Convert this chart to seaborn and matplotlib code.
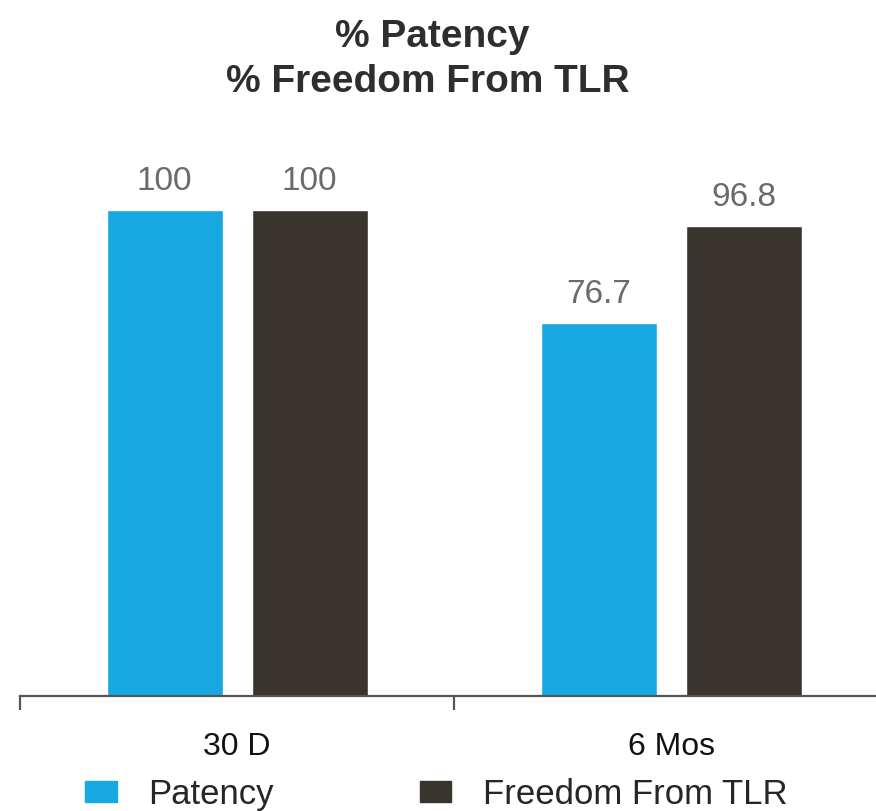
import seaborn as sns
import matplotlib.pyplot as plt
import pandas as pd

# data
timepoints = ["30 D", "6 Mos"]
patency = [100, 76.7]
freedom_tlr = [100, 96.8]
series_names = ["Patency", "Freedom From TLR"]
colors = ["#17a8e2", "#3a342e"]

df = pd.DataFrame({
    "time": timepoints * 2,
    "value": patency + freedom_tlr,
    "series": [series_names[0]] * 2 + [series_names[1]] * 2,
})

sns.set_style("white")
plt.rcParams["font.family"] = ["Liberation Sans", "DejaVu Sans"]

W, H = 876, 812
fig = plt.figure(figsize=(W / 100, H / 100), dpi=100)
ax = fig.add_axes([20 / W, (H - 697) / H, 1 - 20 / W, (697 - 140) / H])

sns.barplot(data=df, x="time", y="value", hue="series", palette=colors,
            width=0.668, gap=0.2, ax=ax, legend=False, saturation=1)

for cont in ax.containers:
    ax.bar_label(cont, labels=[f"{v:g}" for v in cont.datavalues],
                 padding=10, fontsize=24, color="#6a6a6a")

ax.set_xlabel("")
ax.set_ylabel("")
ax.set_yticks([])
for s in ["top", "right", "left"]:
    ax.spines[s].set_visible(False)
ax.spines["bottom"].set_color("#555555")
ax.spines["bottom"].set_linewidth(1.6)

ax.tick_params(axis="x", which="major", bottom=False, length=0, pad=25,
               labelsize=23, labelcolor="#111111")
ax.set_xticks([-0.5, 0.5], minor=True)
ax.tick_params(axis="x", which="minor", bottom=True, length=10, width=1.6,
               color="#555555", direction="out")

# limits last, set_xticks can widen them
ax.set_xlim(-0.5, 1.472)
ax.set_ylim(0, 100 * (697 - 140) / 486)

# title, two lines
fig.text(0.493, 1 - 47 / H, "% Patency", ha="center", va="baseline",
         fontsize=28, fontweight="bold", color="#2e2e2e")
fig.text(0.488, 1 - 92 / H, "% Freedom From TLR", ha="center", va="baseline",
         fontsize=28, fontweight="bold", color="#2e2e2e")

handles = [plt.Rectangle((0, 0), 1, 1, color=c) for c in colors]
fig.legend(handles, series_names, loc="center left",
           bbox_to_anchor=(85 / W, 1 - 795 / H), ncol=2, frameon=False,
           fontsize=25, handlelength=0.92, handleheight=0.55,
           handletextpad=0.9, columnspacing=4.2, borderpad=0,
           borderaxespad=0)

fig.savefig("out.png", dpi=100)
